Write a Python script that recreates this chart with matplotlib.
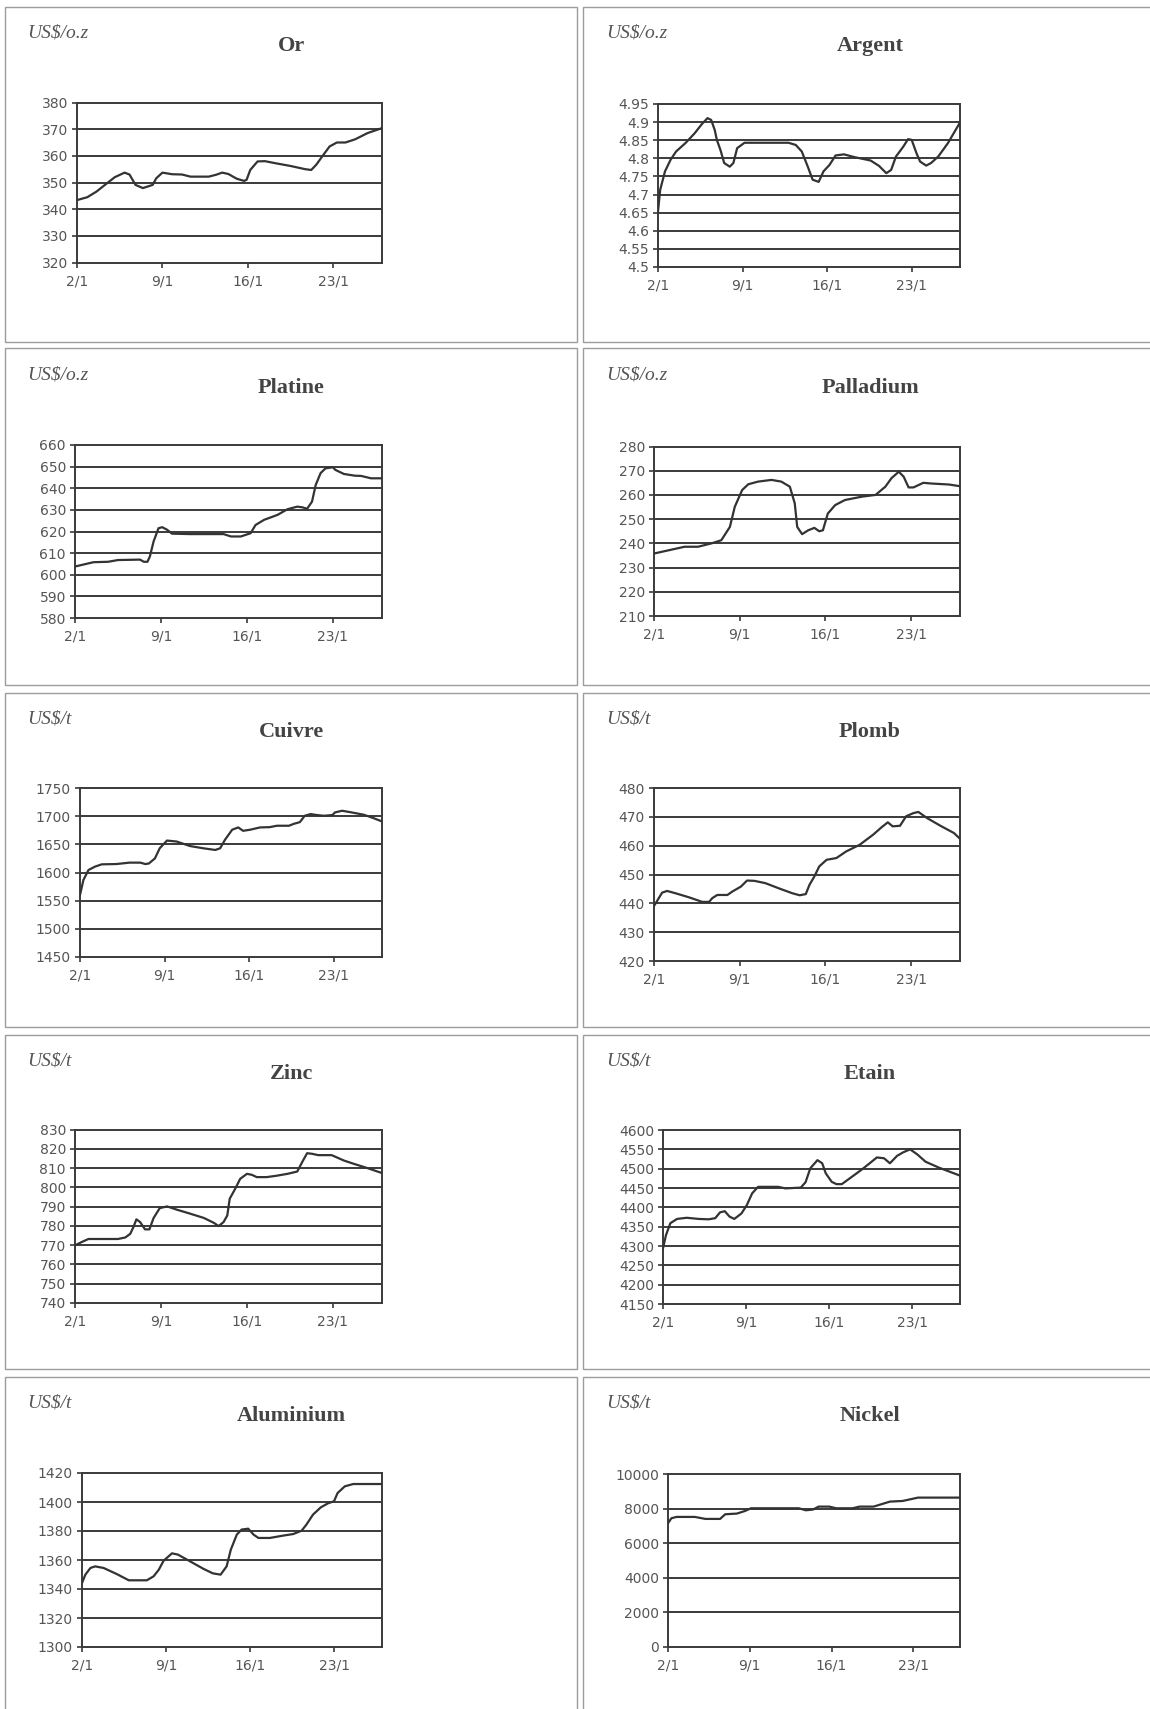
import numpy as np
import matplotlib
matplotlib.use('Agg')
import matplotlib.pyplot as plt
from matplotlib.patches import Rectangle

# ---- data (x = days after 2/1) ----
date_ticks = [0, 7, 14, 21]
date_labels = ['2/1', '9/1', '16/1', '23/1']

names = ['Or', 'Argent', 'Platine', 'Palladium', 'Cuivre',
         'Plomb', 'Zinc', 'Etain', 'Aluminium', 'Nickel']
units = ['US$/o.z', 'US$/o.z', 'US$/o.z', 'US$/o.z', 'US$/t',
         'US$/t', 'US$/t', 'US$/t', 'US$/t', 'US$/t']

y_min = [320, 4.5, 580, 210, 1450, 420, 740, 4150, 1300, 0]
y_max = [380, 4.95, 660, 280, 1750, 480, 830, 4600, 1420, 10000]
y_step = [10, 0.05, 10, 10, 50, 10, 10, 50, 20, 2000]

or_days = [0, 0.85, 1.6, 2.4, 3.1, 3.9, 4.3, 4.8, 5.4, 6.2, 6.5, 7.0, 7.8, 8.6,
           9.3, 10.8, 11.4, 11.9, 12.4, 13.1, 13.7, 13.9, 14.2, 14.8, 15.4,
           16.3, 17.5, 18.7, 19.2, 19.6, 20.2, 20.7, 21.3, 22.0, 22.8, 23.8, 25]
or_vals = [343.4, 344.5, 346.6, 349.5, 352, 353.7, 353, 349.1, 347.9, 349.1,
           351.6, 353.7, 353.1, 353, 352.2, 352.2, 352.9, 353.7, 353.2, 351.4,
           350.6, 351, 354.7, 357.9, 358, 357.2, 356.2, 355, 354.7, 356.6,
           360.4, 363.5, 365, 365, 366.2, 368.5, 370.4]

argent_days = [0, 0.18, 0.58, 1.04, 1.5, 2.27, 3.03, 3.64, 4.1, 4.4, 4.7, 4.87,
               5.17, 5.48, 5.94, 6.24, 6.55, 7.16, 8.4, 10.8, 11.4, 11.9, 12.4,
               12.8, 13.3, 13.7, 14.2, 14.7, 15.4, 16.3, 17.6, 18.3, 18.9, 19.3,
               19.7, 20.3, 20.7, 21.0, 21.4, 21.7, 22.2, 22.6, 23.2, 24.0, 25]
argent_vals = [4.653, 4.713, 4.764, 4.796, 4.819, 4.842, 4.869, 4.895, 4.911,
               4.906, 4.878, 4.851, 4.823, 4.787, 4.777, 4.787, 4.828, 4.843,
               4.843, 4.843, 4.837, 4.819, 4.777, 4.741, 4.735, 4.764, 4.782,
               4.808, 4.811, 4.803, 4.794, 4.779, 4.759, 4.768, 4.805, 4.832,
               4.853, 4.851, 4.814, 4.791, 4.780, 4.787, 4.805, 4.842, 4.899]

platine_days = [0, 1.5, 2.7, 3.5, 5.3, 5.6, 5.9, 6.1, 6.4, 6.8, 7.1, 7.5, 7.9,
                9.4, 12.1, 12.7, 13.5, 14.3, 14.7, 15.4, 16.5, 17.3, 18.1, 18.5,
                18.9, 19.3, 19.6, 20.0, 20.4, 21.0, 21.2, 21.9, 22.8, 23.3,
                24.1, 25]
platine_vals = [603.8, 605.8, 606, 606.8, 607, 606, 606, 608.5, 615.4, 621.5,
                622, 620.8, 619, 618.8, 618.8, 617.7, 617.7, 619.2, 623, 625.4,
                627.7, 630.3, 631.5, 631.2, 630.5, 633.8, 641.5, 647, 649.2,
                649.7, 648.5, 646.6, 645.8, 645.7, 644.6, 644.6]

palladium_days = [0, 2.5, 3.6, 4.7, 5.5, 6.2, 6.6, 7.2, 7.7, 8.5, 9.6, 10.4,
                  11.1, 11.5, 11.7, 12.1, 12.6, 13.1, 13.5, 13.8, 14.2, 14.8,
                  15.6, 17.0, 18.1, 18.9, 19.4, 20.0, 20.4, 20.8, 21.2, 22.0,
                  22.7, 24.1, 25]
palladium_vals = [235.8, 238.6, 238.6, 240, 241.3, 246.8, 255.1, 262, 264.4,
                  265.5, 266.2, 265.5, 263.4, 256.5, 246.8, 243.8, 245.4, 246.4,
                  245, 245.4, 252.3, 255.8, 257.9, 259.3, 260, 263.4, 266.9,
                  269.6, 267.5, 263.1, 263.1, 265, 264.7, 264.3, 263.6]

cuivre_days = [0, 0.28, 0.7, 1.24, 1.8, 3.0, 4.1, 5.0, 5.4, 5.7, 6.2, 6.6, 7.2,
               8.0, 9.1, 10.2, 11.2, 11.6, 12.0, 12.6, 13.1, 13.5, 14.1, 14.9,
               15.7, 16.3, 17.3, 17.7, 18.2, 18.6, 19.1, 19.6, 20.2, 20.9, 21.1,
               21.7, 22.4, 23.5, 24.3, 25]
cuivre_vals = [1560, 1586.6, 1604.4, 1610.4, 1614.5, 1615, 1617.5, 1617.5, 1615,
               1616, 1625, 1643, 1656.7, 1655, 1647, 1643, 1640, 1643, 1658,
               1676, 1680, 1674, 1676, 1680, 1680.5, 1683, 1683, 1686.4,
               1689.4, 1700.7, 1703.7, 1702, 1700.7, 1702, 1706.6, 1709.6,
               1707, 1702.5, 1696.5, 1690.6]

plomb_days = [0, 0.25, 0.66, 1.07, 1.75, 2.85, 3.94, 4.5, 4.76, 5.17, 6.0, 6.4,
              7.1, 7.6, 8.2, 9.1, 10.2, 11.3, 11.9, 12.4, 12.7, 13.1, 13.5,
              14.1, 14.9, 15.7, 16.8, 17.9, 18.6, 19.1, 19.5, 20.1, 20.6, 21.2,
              21.6, 22.3, 23.4, 24.5, 25]
plomb_vals = [439.1, 440.8, 443.7, 444.3, 443.5, 442.1, 440.5, 440.5, 441.8,
              442.9, 442.9, 444.1, 445.8, 447.9, 447.8, 447, 445.2, 443.5,
              442.8, 443.2, 446.4, 449.3, 452.8, 455.1, 455.7, 458, 460.3,
              463.8, 466.4, 468.1, 466.7, 466.9, 470.2, 471.3, 471.7, 469.6,
              466.9, 464.4, 462.4]

zinc_days = [0, 0.54, 1.09, 1.77, 3.5, 4.1, 4.5, 4.76, 5.0, 5.3, 5.7, 6.06, 6.4,
             6.9, 7.5, 8.3, 9.4, 10.5, 11.3, 11.7, 12.1, 12.4, 12.6, 13.05,
             13.45, 14.0, 14.4, 14.8, 15.6, 16.4, 17.3, 18.1, 18.5, 18.9, 19.3,
             19.8, 20.9, 21.9, 22.7, 23.8, 25]
zinc_vals = [769.9, 771.6, 773.2, 773.2, 773.2, 774, 775.9, 779.4, 783.4, 782,
             778.2, 778.2, 784.1, 789.2, 790.1, 788.4, 786.3, 784.1, 781.6,
             779.9, 782, 785.4, 794.1, 799.3, 804.4, 807, 806.5, 805.3, 805.3,
             806, 807, 808.2, 813.1, 817.7, 817.4, 816.7, 816.7, 813.9, 812.2,
             810, 807.4]

etain_days = [0, 0.25, 0.62, 1.18, 2.0, 3.0, 3.84, 4.4, 4.8, 5.2, 5.6, 6.0, 6.6,
              7.06, 7.5, 8.0, 9.7, 10.3, 11.6, 12.0, 12.4, 13.0, 13.4, 13.7,
              14.2, 14.6, 15.05, 15.9, 16.7, 17.4, 18.0, 18.6, 19.1, 19.7,
              20.2, 20.8, 21.4, 22.1, 23.2, 25]
etain_vals = [4294, 4328, 4359, 4370, 4373, 4370, 4369, 4372, 4387, 4390, 4376,
              4370, 4384, 4406, 4436, 4453, 4453, 4449, 4451, 4465, 4501, 4522,
              4514, 4488, 4466, 4460, 4460, 4479, 4497, 4514, 4529, 4527, 4514,
              4533, 4542, 4550, 4537, 4518, 4503, 4482]

alu_days = [0, 0.28, 0.7, 1.1, 1.8, 2.9, 3.9, 5.4, 5.96, 6.4, 6.8, 7.5, 8.0,
            9.0, 10.1, 10.9, 11.55, 12.05, 12.4, 12.9, 13.3, 13.85, 14.3, 14.7,
            15.65, 16.75, 17.6, 18.3, 18.7, 19.25, 19.9, 20.5, 21.0, 21.3,
            21.9, 22.6, 25]
alu_vals = [1344.1, 1349.9, 1354.5, 1355.6, 1354.5, 1350.3, 1346, 1346, 1348.7,
            1353.3, 1359.5, 1364.6, 1363.7, 1359.1, 1354, 1350.8, 1349.9,
            1355.6, 1367.1, 1377.5, 1381, 1381.6, 1377.5, 1375.2, 1375.2,
            1376.8, 1377.9, 1380.2, 1384.4, 1391.3, 1396.3, 1399.1, 1400.5,
            1406.2, 1410.8, 1412.4, 1412.4]

nickel_days = [0, 0.29, 0.72, 2.3, 3.2, 4.46, 4.9, 5.9, 6.6, 7.1, 11.2, 11.8,
               12.4, 12.9, 13.8, 14.4, 15.8, 16.4, 17.6, 19.0, 20.1, 21.4, 25]
nickel_vals = [7154, 7442, 7519, 7519, 7404, 7404, 7673, 7712, 7865, 8019, 8019,
               7904, 7942, 8115, 8115, 8019, 8019, 8115, 8115, 8404, 8442,
               8635, 8635]

series_days = [or_days, argent_days, platine_days, palladium_days, cuivre_days,
               plomb_days, zinc_days, etain_days, alu_days, nickel_days]
series_vals = [or_vals, argent_vals, platine_vals, palladium_vals, cuivre_vals,
               plomb_vals, zinc_vals, etain_vals, alu_vals, nickel_vals]

# ---- page layout in pixels of the 1150 x 1709 sheet ----
W, H = 1150, 1709
panel_left = [4.5, 583]
panel_top = [6.5, 348.5, 692.5, 1034.5, 1376.5]
panel_bottom = [342, 685, 1027, 1369, 1720]
plot_left = [77, 658, 75, 654, 80, 654, 75, 663, 82, 668]
plot_right = [382, 960]
plot_top = [102.5, 104, 445, 446.5, 788, 788, 1129.5, 1130, 1473, 1474]
plot_bottom = [262.5, 267, 618, 616, 957, 961, 1303, 1304, 1647, 1647]

ink = '#3a3a3a'


def fx(x):
    return x / W


def fy(y):
    return 1 - y / H


fig = plt.figure(figsize=(W / 100, H / 100), dpi=100)
fig.patch.set_facecolor('white')

for i, name in enumerate(names):
    row, col = divmod(i, 2)
    px0 = panel_left[col]
    py0 = panel_top[row]
    px1 = 577 if col == 0 else 1200
    py1 = panel_bottom[row]

    # grey frame around each chart block
    fig.patches.append(Rectangle((fx(px0), fy(py1)), (px1 - px0) / W, (py1 - py0) / H,
                                 transform=fig.transFigure, fill=False,
                                 edgecolor='#9c9c9c', lw=1.0))

    fig.text(fx(px0 + 287), fy(py0 + 39.5), name, ha='center', va='center',
             fontsize=16, fontweight='bold', family='Liberation Serif', color='#444444')
    fig.text(fx(px0 + 23), fy(py0 + 26.5), units[i], ha='left', va='center',
             fontsize=14, style='italic', family='Liberation Serif', color='#555555')

    l, r = plot_left[i], plot_right[col]
    t, b = plot_top[i], plot_bottom[i]
    ax = fig.add_axes([fx(l), fy(b), (r - l) / W, (b - t) / H])

    ticks = np.round(np.arange(y_min[i], y_max[i] + y_step[i] / 2, y_step[i]), 2)
    ax.set_ylim(y_min[i], y_max[i])
    ax.set_yticks(ticks)
    ax.set_yticklabels(['%g' % v for v in ticks])
    ax.set_xlim(0, 25)
    ax.set_xticks(date_ticks)
    ax.set_xticklabels(date_labels)

    for v in ticks[1:-1]:
        ax.axhline(v, color=ink, lw=1.4, zorder=1)
    ax.plot(series_days[i], series_vals[i], color='#333333', lw=1.6,
            solid_joinstyle='round', solid_capstyle='round', zorder=3)

    for s in ax.spines.values():
        s.set_color(ink)
        s.set_linewidth(1.4)
    ax.tick_params(direction='out', length=3.5, width=1.2, color=ink,
                   labelsize=10, labelcolor='#555555')
    ax.tick_params(axis='y', pad=3)
    ax.tick_params(axis='x', pad=5)

fig.savefig('out.png', dpi=100, facecolor='white')
